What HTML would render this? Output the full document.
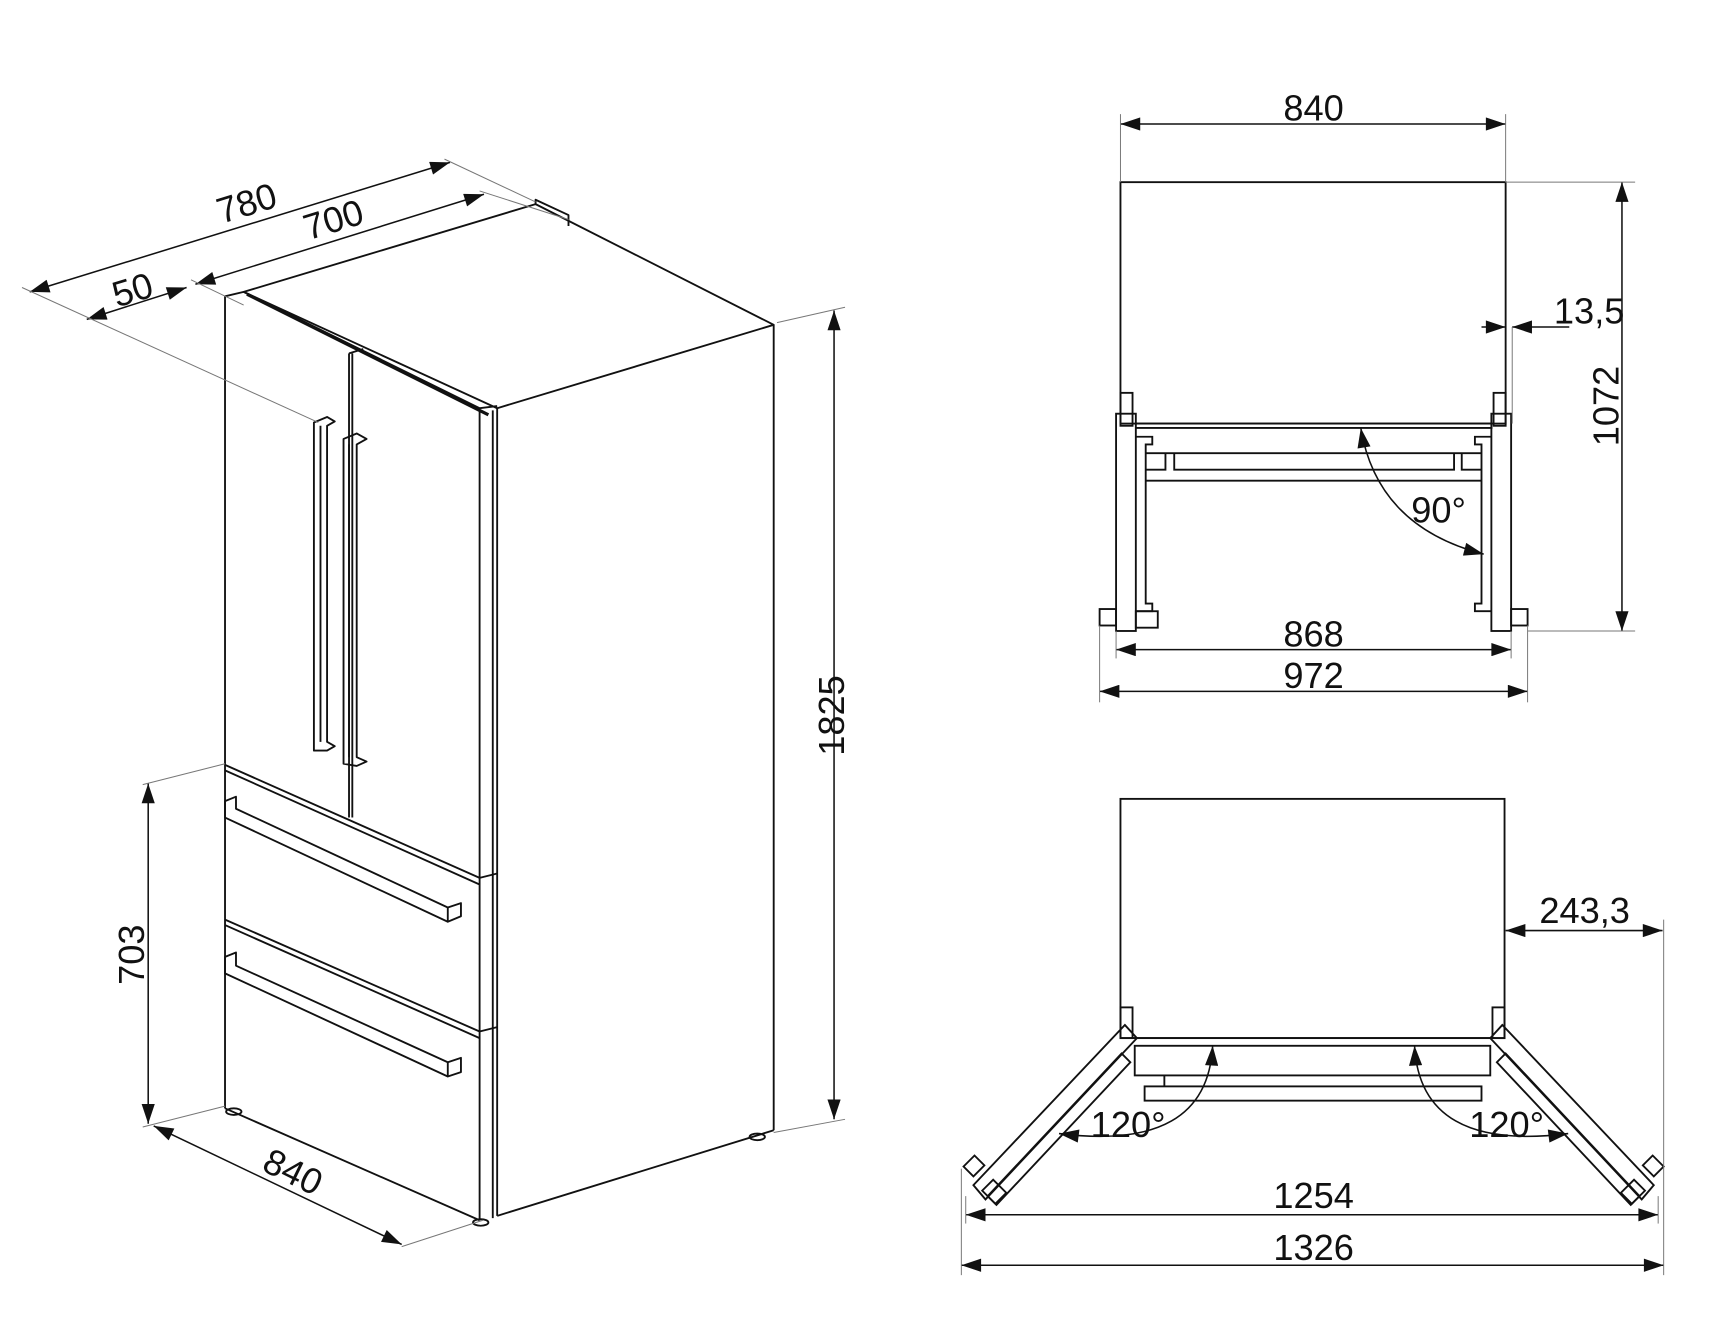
<!DOCTYPE html>
<html><head><meta charset="utf-8"><style>
html,body{margin:0;padding:0;background:#fff}
svg{display:block}
text{font-family:"Liberation Sans",Arial,sans-serif;font-size:33px;fill:#111}
</style></head><body>
<svg width="1712" height="1330" viewBox="0 0 1560 1212" xmlns="http://www.w3.org/2000/svg">
<defs>
<marker id="a" viewBox="0 0 12 8" refX="12" refY="4" markerWidth="19" markerHeight="12" markerUnits="userSpaceOnUse" orient="auto-start-reverse"><path d="M0,0 L12,4 L0,8 z" fill="#111"/></marker>
</defs>
<g fill="none" stroke="#111" stroke-width="1.7" stroke-linejoin="round">
<polygon points="222,266 488,186 705,296 453,372"/>
<polyline points="488,186 488,182 518,196 518,206"/>
<line x1="705" y1="296" x2="705" y2="1030"/>
<line x1="453" y1="372" x2="453" y2="1108"/>
<line x1="449" y1="374" x2="449" y2="1110"/>
<line x1="453" y1="1108" x2="705" y2="1030"/>
<line x1="205" y1="270" x2="205" y2="1010"/>
<polyline points="205,270 222,266 437,372 453,370"/>
<line x1="437" y1="375" x2="437" y2="1112"/>
<line x1="225" y1="268" x2="445" y2="378" stroke-width="3"/>
<line x1="205" y1="1010" x2="437" y2="1112"/>
<line x1="318" y1="322" x2="318" y2="745"/>
<line x1="321" y1="322" x2="321" y2="745"/>
<polyline points="318,322 331,318"/>
<polyline points="205,697 437,800 453,796"/>
<polyline points="205,702 437,806"/>
<polyline points="205,838 437,940 453,936"/>
<polyline points="205,843 437,946"/>
<polygon points="286,385 298,380 305,384 298,388 298,676 305,680 298,684 286,684"/>
<line x1="292" y1="388" x2="292" y2="676"/>
<polygon points="313,400 325,395 334,400 325,405 325,690 334,694 325,698 313,696"/>
<line x1="318" y1="405" x2="318" y2="690"/>
<polygon points="205,730 215,726 215,737 408,827 420,823 420,835 408,840 205,745"/>
<line x1="408" y1="827" x2="408" y2="840"/>
<polygon points="205,872 215,868 215,880 408,968 420,964 420,977 408,981 205,887"/>
<line x1="408" y1="968" x2="408" y2="981"/>
<ellipse cx="213" cy="1013" rx="7" ry="3"/>
<ellipse cx="438" cy="1114" rx="7" ry="3"/>
<ellipse cx="690" cy="1036" rx="7" ry="3"/>
</g>
<g stroke="#111" stroke-width="1.4" fill="none">
<line x1="27" y1="266" x2="410" y2="148" marker-start="url(#a)" marker-end="url(#a)"/>
<line x1="178" y1="259" x2="441" y2="177" marker-start="url(#a)" marker-end="url(#a)"/>
<line x1="79" y1="291" x2="170" y2="262" marker-start="url(#a)" marker-end="url(#a)"/>
<line x1="760" y1="283" x2="760" y2="1020" marker-start="url(#a)" marker-end="url(#a)"/>
<line x1="135" y1="714" x2="135" y2="1024" marker-start="url(#a)" marker-end="url(#a)"/>
<line x1="140" y1="1026" x2="366" y2="1134" marker-start="url(#a)" marker-end="url(#a)"/>
</g>
<g stroke="#777" stroke-width="0.9">
<line x1="20" y1="262" x2="290" y2="385"/>
<line x1="174" y1="255" x2="222" y2="278"/>
<line x1="405" y1="145" x2="488" y2="184"/>
<line x1="437" y1="174" x2="518" y2="200"/>
<line x1="708" y1="294" x2="770" y2="280"/>
<line x1="705" y1="1032" x2="770" y2="1020"/>
<line x1="130" y1="715" x2="205" y2="696"/>
<line x1="130" y1="1027" x2="205" y2="1008"/>
<line x1="366" y1="1136" x2="440" y2="1112"/>
</g>
<text transform="translate(228,196) rotate(-17)" text-anchor="middle">780</text>
<text transform="translate(307,211) rotate(-17)" text-anchor="middle">700</text>
<text transform="translate(124,275) rotate(-17)" text-anchor="middle">50</text>
<text transform="translate(769,652) rotate(-90)" text-anchor="middle">1825</text>
<text transform="translate(131,870) rotate(-90)" text-anchor="middle">703</text>
<text transform="translate(262,1078) rotate(26)" text-anchor="middle">840</text>

<g fill="none" stroke="#111" stroke-width="1.7">
<rect x="1021" y="166" width="351" height="220"/>
<line x1="1035" y1="386" x2="1360" y2="386"/>
<line x1="1035" y1="390" x2="1360" y2="390"/>
<rect x="1021" y="358" width="11" height="30"/>
<rect x="1361" y="358" width="11" height="30"/>
<rect x="1017" y="377" width="18" height="198"/>
<rect x="1359" y="377" width="18" height="198"/>
<polyline points="1035,398 1050,398 1050,405 1044,405 1044,550 1050,550 1050,557 1035,557"/>
<polyline points="1359,398 1344,398 1344,405 1350,405 1350,550 1344,550 1344,557 1359,557"/>
<rect x="1002" y="555" width="15" height="15"/>
<rect x="1377" y="555" width="15" height="15"/>
<rect x="1035" y="557" width="20" height="15"/>
<line x1="1044" y1="413" x2="1350" y2="413"/>
<line x1="1044" y1="438" x2="1350" y2="438"/>
<polyline points="1044,428 1062,428 1062,413"/>
<polyline points="1350,428 1332,428 1332,413"/>
<polyline points="1070,413 1070,428 1325,428 1325,413"/>
</g>
<g stroke="#111" stroke-width="1.4" fill="none">
<line x1="1021" y1="113" x2="1372" y2="113" marker-start="url(#a)" marker-end="url(#a)"/>
<line x1="1478" y1="166" x2="1478" y2="575" marker-start="url(#a)" marker-end="url(#a)"/>
<line x1="1350" y1="298" x2="1372" y2="298" marker-end="url(#a)"/>
<line x1="1430" y1="298" x2="1378" y2="298" marker-end="url(#a)"/>
<line x1="1017" y1="592" x2="1377" y2="592" marker-start="url(#a)" marker-end="url(#a)"/>
<line x1="1002" y1="630" x2="1392" y2="630" marker-start="url(#a)" marker-end="url(#a)"/>
<path d="M1240,390 Q1255,480 1352,505" marker-start="url(#a)" marker-end="url(#a)"/>
</g>
<g stroke="#777" stroke-width="0.9">
<line x1="1021" y1="104" x2="1021" y2="166"/>
<line x1="1372" y1="104" x2="1372" y2="166"/>
<line x1="1372" y1="166" x2="1490" y2="166"/>
<line x1="1392" y1="575" x2="1490" y2="575"/>
<line x1="1378" y1="298" x2="1378" y2="386"/>
<line x1="1002" y1="570" x2="1002" y2="640"/>
<line x1="1392" y1="570" x2="1392" y2="640"/>
<line x1="1017" y1="575" x2="1017" y2="600"/>
<line x1="1377" y1="575" x2="1377" y2="600"/>
</g>
<text x="1197" y="110" text-anchor="middle">840</text>
<text x="1416" y="295">13,5</text>
<text transform="translate(1475,370) rotate(-90)" text-anchor="middle">1072</text>
<text x="1286" y="476">90°</text>
<text x="1197" y="589" text-anchor="middle">868</text>
<text x="1197" y="627" text-anchor="middle">972</text>

<g fill="none" stroke="#111" stroke-width="1.7">
<rect x="1021" y="728" width="350" height="218"/>
<line x1="1030" y1="946" x2="1362" y2="946"/>
<rect x="1021" y="918" width="11" height="28"/>
<rect x="1360" y="918" width="11" height="28"/>
<rect x="1034" y="953" width="324" height="27"/>
<rect x="1043" y="990" width="307" height="13"/>
<polyline points="1061,990 1061,980 M1068,990 1068,980 M1325,990 1325,980 M1332,990 1332,980"/>
<polygon points="1025,934 1036,946 898,1093 887,1080"/>
<polygon points="1022,960 1030,968 908,1098 900,1090"/>
<polygon points="878,1063 888,1053 897,1062 887,1072"/>
<polygon points="895,1085 905,1075 917,1087 907,1097"/>
<polygon points="1369,934 1358,946 1496,1093 1507,1080"/>
<polygon points="1372,960 1364,968 1486,1098 1494,1090"/>
<polygon points="1516,1063 1506,1053 1497,1062 1507,1072"/>
<polygon points="1499,1085 1489,1075 1477,1087 1487,1097"/>
</g>
<g stroke="#111" stroke-width="1.4" fill="none">
<line x1="1372" y1="848" x2="1515" y2="848" marker-start="url(#a)" marker-end="url(#a)"/>
<line x1="880" y1="1107" x2="1511" y2="1107" marker-start="url(#a)" marker-end="url(#a)"/>
<line x1="876" y1="1153" x2="1516" y2="1153" marker-start="url(#a)" marker-end="url(#a)"/>
<path d="M1105,953 Q1100,1050 965,1033" marker-start="url(#a)" marker-end="url(#a)"/>
<path d="M1289,953 Q1294,1050 1429,1033" marker-start="url(#a)" marker-end="url(#a)"/>
</g>
<g stroke="#777" stroke-width="0.9">
<line x1="1516" y1="838" x2="1516" y2="1162"/>
<line x1="876" y1="1065" x2="876" y2="1162"/>
<line x1="880" y1="1090" x2="880" y2="1115"/>
<line x1="1511" y1="1090" x2="1511" y2="1115"/>
</g>
<text x="1444" y="841" text-anchor="middle">243,3</text>
<text x="1028" y="1036" text-anchor="middle">120°</text>
<text x="1373" y="1036" text-anchor="middle">120°</text>
<text x="1197" y="1101" text-anchor="middle">1254</text>
<text x="1197" y="1148" text-anchor="middle">1326</text>
</svg>
</body></html>
